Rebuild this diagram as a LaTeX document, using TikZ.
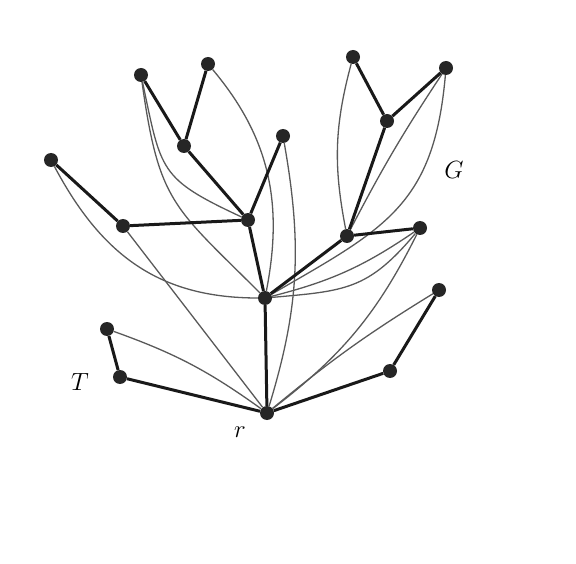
\documentclass[tikz,border=0pt]{standalone}
\begin{document}
\begin{tikzpicture}[x=1pt,y=1pt,
  vtx/.style={circle,fill=black!85,inner sep=0pt,minimum size=14pt},
  tree/.style={line width=3pt,black!90},
  extra/.style={line width=1.3pt,black!65},
  lbl/.style={font=\fontsize{29}{34}\selectfont}]
\useasboundingbox (0,0) rectangle (576,-564);
% vertices
\node[vtx] (r)  at (267,-413) {};
\node[vtx] (Lb) at (120,-377) {};
\node[vtx] (La) at (107,-329) {};
\node[vtx] (Rb) at (390,-371) {};
\node[vtx] (Ra) at (439,-290) {};
\node[vtx] (m)  at (265,-298) {};
\node[vtx] (c)  at (248,-220) {};
\node[vtx] (b)  at (123,-226) {};
\node[vtx] (a)  at (51,-160) {};
\node[vtx] (d)  at (184,-146) {};
\node[vtx] (e)  at (141,-75) {};
\node[vtx] (f)  at (208,-64) {};
\node[vtx] (g)  at (283,-136) {};
\node[vtx] (h)  at (347,-236) {};
\node[vtx] (i)  at (420,-228) {};
\node[vtx] (j)  at (387,-121) {};
\node[vtx] (k)  at (353,-57) {};
\node[vtx] (l)  at (446,-68) {};
% labels
\node[lbl] (Tlbl) at (80,-382) {$T$};
\node[lbl] (rlbl) at (240,-432) {$r$};
\node[lbl] (Glbl) at (454,-170) {$G$};
% non-tree edges of G
\draw[extra] (La) to[bend left=8] (r);
\draw[extra] (b) -- (r);
\draw[extra] (a) to[out=-62,in=180,looseness=1.05] (m);
\draw[extra] (e) to[out=-78,in=155,looseness=1.4] (c);
\draw[extra] (e) to[out=-82,in=135,looseness=1.3] (m);
\draw[extra] (f) to[out=-50,in=79] (m);
\draw[extra] (g) to[out=-80,in=73] (r);
\draw[extra] (k) to[out=-105,in=101] (h);
\draw[extra] (l) to[bend right=3] (h);
\draw[extra] (l) to[out=-95,in=30,looseness=1.2] (m);
\draw[extra] (m) to[bend right=10] (i);
\draw[extra] (m) to[out=5,in=-130,looseness=1.2] (i);
\draw[extra] (i) to[bend left=13] (r);
\draw[extra] (Ra) to[bend right=4] (r);
% tree T
\draw[tree] (r) -- (Lb) -- (La);
\draw[tree] (r) -- (Rb) -- (Ra);
\draw[tree] (r) -- (m) -- (c);
\draw[tree] (c) -- (b) -- (a);
\draw[tree] (c) -- (d) -- (e);
\draw[tree] (d) -- (f);
\draw[tree] (c) -- (g);
\draw[tree] (m) -- (h) -- (i);
\draw[tree] (h) -- (j) -- (k);
\draw[tree] (j) -- (l);
\end{tikzpicture}
\end{document}
